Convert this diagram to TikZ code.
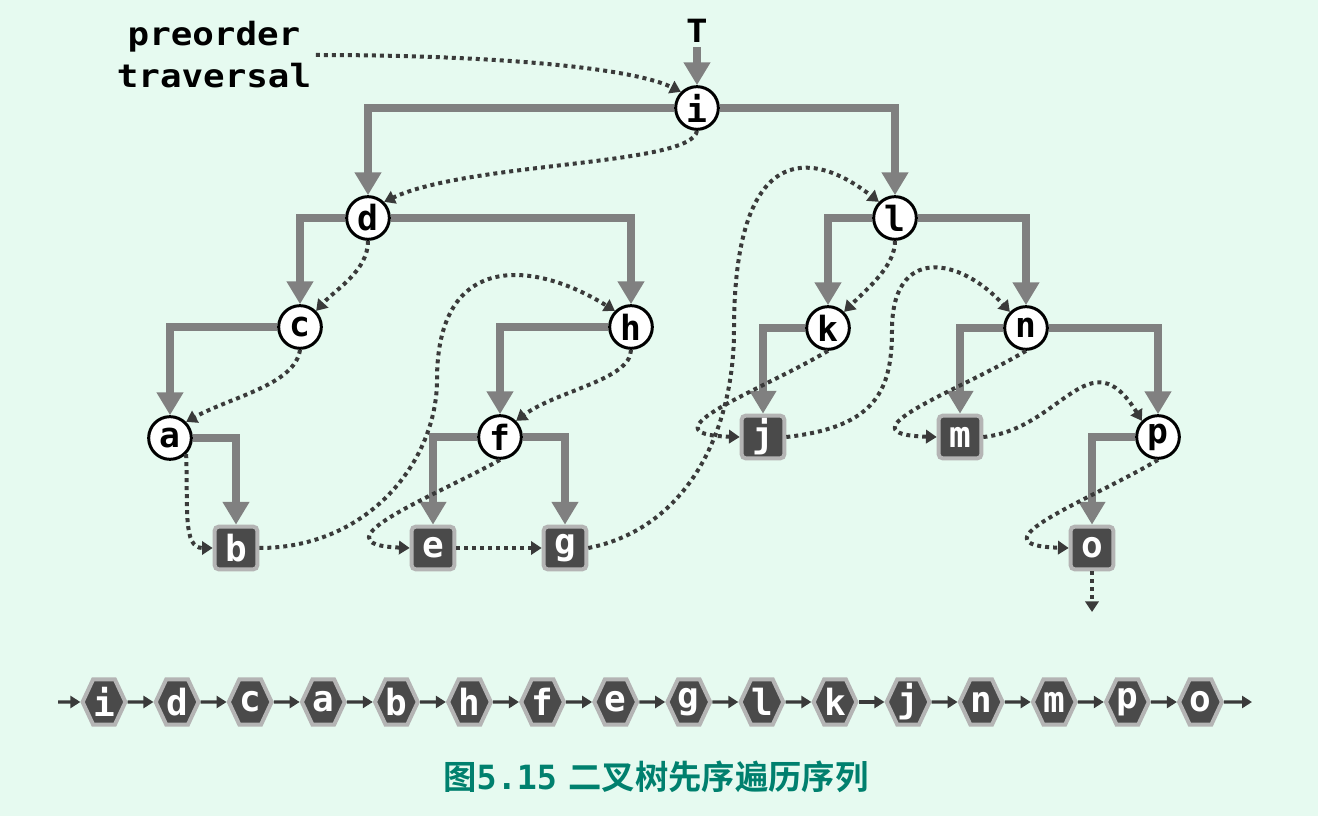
\documentclass[tikz,border=0pt]{standalone}
\usepackage{fontspec}
\usepackage{tikz}
\usetikzlibrary{arrows.meta,shapes.symbols}
\newfontfamily\monofont{DejaVu Sans Mono}
\newfontfamily\labelfont[FakeStretch=1.12]{DejaVu Sans Mono}
\newfontfamily\cjkfont{Noto Sans CJK SC Bold}
\definecolor{bgmint}{HTML}{E6FAF0}
\definecolor{edgegrey}{HTML}{808080}
\definecolor{pathgrey}{HTML}{3A3A3A}
\definecolor{leafgrey}{HTML}{4A4A4A}
\definecolor{rimgrey}{HTML}{B4B4B4}
\definecolor{capteal}{HTML}{00806E}
\newcommand{\nodefont}{\monofont\bfseries\fontsize{26pt}{26pt}\selectfont}
\newcommand{\boxfont}{\monofont\bfseries\fontsize{27pt}{27pt}\selectfont}

\begin{document}
\begin{tikzpicture}[x=0.75pt,y=-0.75pt,
  innernode/.style={circle,draw=black,line width=2.25pt,fill=white,minimum size=32pt,inner sep=0pt,font=\nodefont},
  leafbox/.style={rectangle,rounded corners=3pt,draw=rimgrey,line width=3pt,fill=leafgrey,text=white,minimum size=32pt,inner sep=0pt,font=\boxfont},
  hexbox/.style={signal,signal to=east and west,signal pointer angle=130,draw=rimgrey,line width=3pt,fill=leafgrey,text=white,minimum width=32pt,minimum height=34pt,inner sep=0pt,font=\boxfont},
  treeedge/.style={draw=edgegrey,line width=6pt,-{Triangle[width=19pt,length=17pt]}},
  travpath/.style={pathgrey,line width=3pt,dash pattern=on 3pt off 3pt,-{Triangle[width=10pt,length=8pt]}},
  seqarrow/.style={pathgrey,line width=2.4pt,-{Triangle[width=9pt,length=7.5pt]}}]
  \path[use as bounding box,fill=bgmint] (0,0) rectangle (1318,816);
  % tree
  \node[innernode] (i) at (697,108) {i};
  \node[innernode] (d) at (368,218) {d};
  \node[innernode] (l) at (895,218) {l};
  \node[innernode] (c) at (300,327) {c};
  \node[innernode] (h) at (631,327) {h};
  \node[innernode] (k) at (828,328) {k};
  \node[innernode] (n) at (1026,328) {n};
  \node[innernode] (a) at (170,438) {a};
  \node[innernode] (f) at (500,437) {f};
  \node[innernode] (p) at (1158,437) {p};
  \node[leafbox] (j) at (763,437) {j};
  \node[leafbox] (m) at (960,437) {m};
  \node[leafbox] (b) at (236,548) {b};
  \node[leafbox] (e) at (433,548) {e};
  \node[leafbox] (g) at (565,548) {g};
  \node[leafbox] (o) at (1092,548) {o};
  \node[font=\labelfont\bfseries\fontsize{24pt}{24pt}\selectfont] (T) at (697,31) {T};
  \node[font=\labelfont\bfseries\fontsize{24pt}{31.5pt}\selectfont,align=center] (lbl) at (214,55) {preorder\\traversal};
  \coordinate (oend) at (1092,612);
  \draw[treeedge] (T) -- (i);
  \foreach \u/\v in {i/d,i/l,d/c,d/h,c/a,a/b,h/f,f/e,f/g,l/k,l/n,k/j,n/m,n/p,p/o}
    \draw[treeedge] (\u) -| (\v);
  % preorder path
  \draw[travpath] (lbl.east) .. controls +(170,0) and +(-50,-25) .. (i.north west);
  \draw[travpath] (i.south) .. controls +(-5,35) and +(85,-40) .. (d.north east);
  \draw[travpath] (d.south) .. controls +(0,30) and +(20,-22) .. (c.north east);
  \draw[travpath] (c.south) .. controls +(-5,35) and +(45,-25) .. (a.north east);
  \draw[travpath] (a.south east) .. controls +(2,55) and +(-30,0) .. (b.west);
  \draw[travpath] (b.east) .. controls +(110,0) and +(0,80) .. (437,380)
    .. controls +(0,-130) and +(-80,-50) .. (h.north west);
  \draw[travpath] (h.south) .. controls +(0,30) and +(40,-30) .. (f.north east);
  \draw[travpath] (f.south) .. controls +(-60,34) and +(-100,-4) .. (e.west);
  \draw[travpath] (e.east) -- (g.west);
  \draw[travpath] (g.east) .. controls +(100,-20) and +(0,100) .. (734,330)
    .. controls +(0,-185) and +(-70,-55) .. (l.north west);
  \draw[travpath] (l.south) .. controls +(0,25) and +(25,-25) .. (k.north east);
  \draw[travpath] (k.south) .. controls +(-67,40) and +(-100,-3) .. (j.west);
  \draw[travpath] (j.east) .. controls +(90,-10) and +(0,60) .. (892,330)
    .. controls +(0,-85) and +(-50,-55) .. (n.north west);
  \draw[travpath] (n.south) .. controls +(-67,40) and +(-100,-3) .. (m.west);
  \draw[travpath] (m.east) .. controls +(78,-8) and +(-52,-85) .. (p.north west);
  \draw[travpath] (p.south) .. controls +(-67,40) and +(-100,-3) .. (o.west);
  \draw[travpath] (o.south) -- (oend);
  % sequence
  \coordinate (sstart) at (58,702);
  \coordinate (send) at (1252,702);
  \foreach \ch [count=\k] in {i,d,c,a,b,h,f,e,g,l,k,j,n,m,p,o}
    \node[hexbox] (s\k) at ({104+73.1*(\k-1)},702) {\ch};
  \draw[seqarrow] (sstart) -- (s1);
  \foreach \k [evaluate=\k as \nxt using int(\k+1)] in {1,...,15}
    \draw[seqarrow] (s\k) -- (s\nxt);
  \draw[seqarrow] (s16) -- (send);
  \node[font=\cjkfont\fontsize{25pt}{26pt}\selectfont,text=capteal] (cap) at (656,777) {图{\monofont\bfseries 5.15}\hspace{0.35em}二叉树先序遍历序列};
\end{tikzpicture}
\end{document}
